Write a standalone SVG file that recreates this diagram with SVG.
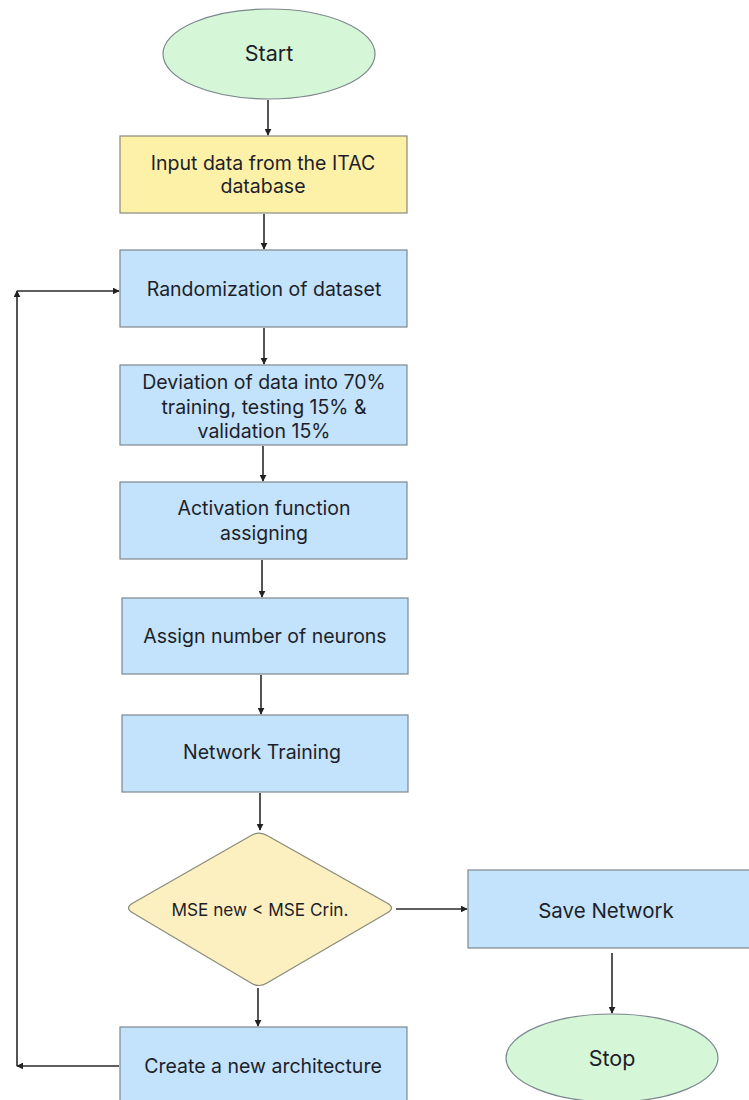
<svg xmlns="http://www.w3.org/2000/svg" width="749" height="1100" viewBox="0 0 749 1100">
<defs>
<marker id="ah" viewBox="0 0 10 10" refX="9" refY="5" markerWidth="7" markerHeight="7" markerUnits="userSpaceOnUse" orient="auto">
<path d="M0,0 L10,5 L0,10 z" fill="#222"/>
</marker>
<style>
.box{fill:#c2e3fb;stroke:#7d8790;stroke-width:1.2}
.yel{fill:#fdf1a8;stroke:#8a8a7a;stroke-width:1.2}
.dia{fill:#fdf0c0;stroke:#8a8a7a;stroke-width:1.2}
.ell{fill:#d5f7d7;stroke:#7d8790;stroke-width:1.2}
.t{font-family:Inter,"Liberation Sans",sans-serif;font-size:19.5px;fill:#1e1e2a;text-anchor:middle;dominant-baseline:central}
.big{font-size:21.5px}
.sm{font-size:17.2px}
.c{stroke:#2a2a2a;stroke-width:1.6;fill:none;marker-end:url(#ah)}
</style>
</defs>
<rect width="749" height="1100" fill="#fff"/>
<g id="start"><ellipse class="ell" cx="269" cy="54" rx="106" ry="45"/><text class="t big" x="269" y="53">Start</text></g>
<g id="input"><rect class="yel" x="120" y="136" width="287" height="77"/><text class="t" x="263" y="163">Input data from the ITAC</text><text class="t" x="263" y="186">database</text></g>
<g id="random"><rect class="box" x="120" y="250" width="287" height="77"/><text class="t" x="264" y="289">Randomization of dataset</text></g>
<g id="deviation"><rect class="box" x="120" y="365" width="287" height="80"/><text class="t" x="264" y="382">Deviation of data into 70%</text><text class="t" x="264" y="407">training, testing 15% &amp;</text><text class="t" x="264" y="431">validation 15%</text></g>
<g id="activation"><rect class="box" x="120" y="482" width="287" height="77"/><text class="t" x="264" y="508">Activation function</text><text class="t" x="264" y="533">assigning</text></g>
<g id="assign"><rect class="box" x="122" y="598" width="286" height="76"/><text class="t" x="265" y="636">Assign number of neurons</text></g>
<g id="training"><rect class="box" x="122" y="715" width="286" height="77"/><text class="t" x="262" y="752">Network Training</text></g>
<g id="decision"><path class="dia" d="M252,835 Q260,831 268,836 L387,903 Q396,908 387,913 L267,983 Q259,988 251,983 L133,913 Q124,908 133,903 Z"/><text class="t sm" x="260" y="909">MSE new &lt; MSE Crin.</text></g>
<g id="save"><rect class="box" x="468" y="870" width="283" height="78"/><text class="t" x="606" y="910" style="font-size:20.5px">Save Network</text></g>
<g id="stop"><ellipse class="ell" cx="612" cy="1058" rx="106" ry="44"/><text class="t big" x="612" y="1058">Stop</text></g>
<g id="create"><rect class="box" x="120" y="1027" width="287" height="80"/><text class="t" x="263" y="1066">Create a new architecture</text></g>
<g id="connectors">
<path class="c" d="M268,100 L268,135"/>
<path class="c" d="M264,214 L264,249"/>
<path class="c" d="M264,328 L264,364"/>
<path class="c" d="M263,446 L263,481"/>
<path class="c" d="M262,560 L262,597"/>
<path class="c" d="M261,675 L261,714"/>
<path class="c" d="M260,793 L260,830"/>
<path class="c" d="M396,909 L467,909"/>
<path class="c" d="M612,953 L612,1013"/>
<path class="c" d="M258,988 L258,1026"/>
<path class="c" d="M119,1066 L17,1066"/>
<path class="c" d="M17,1066 L17,291"/>
<path class="c" d="M17,291 L119,291"/>
</g>
</svg>
